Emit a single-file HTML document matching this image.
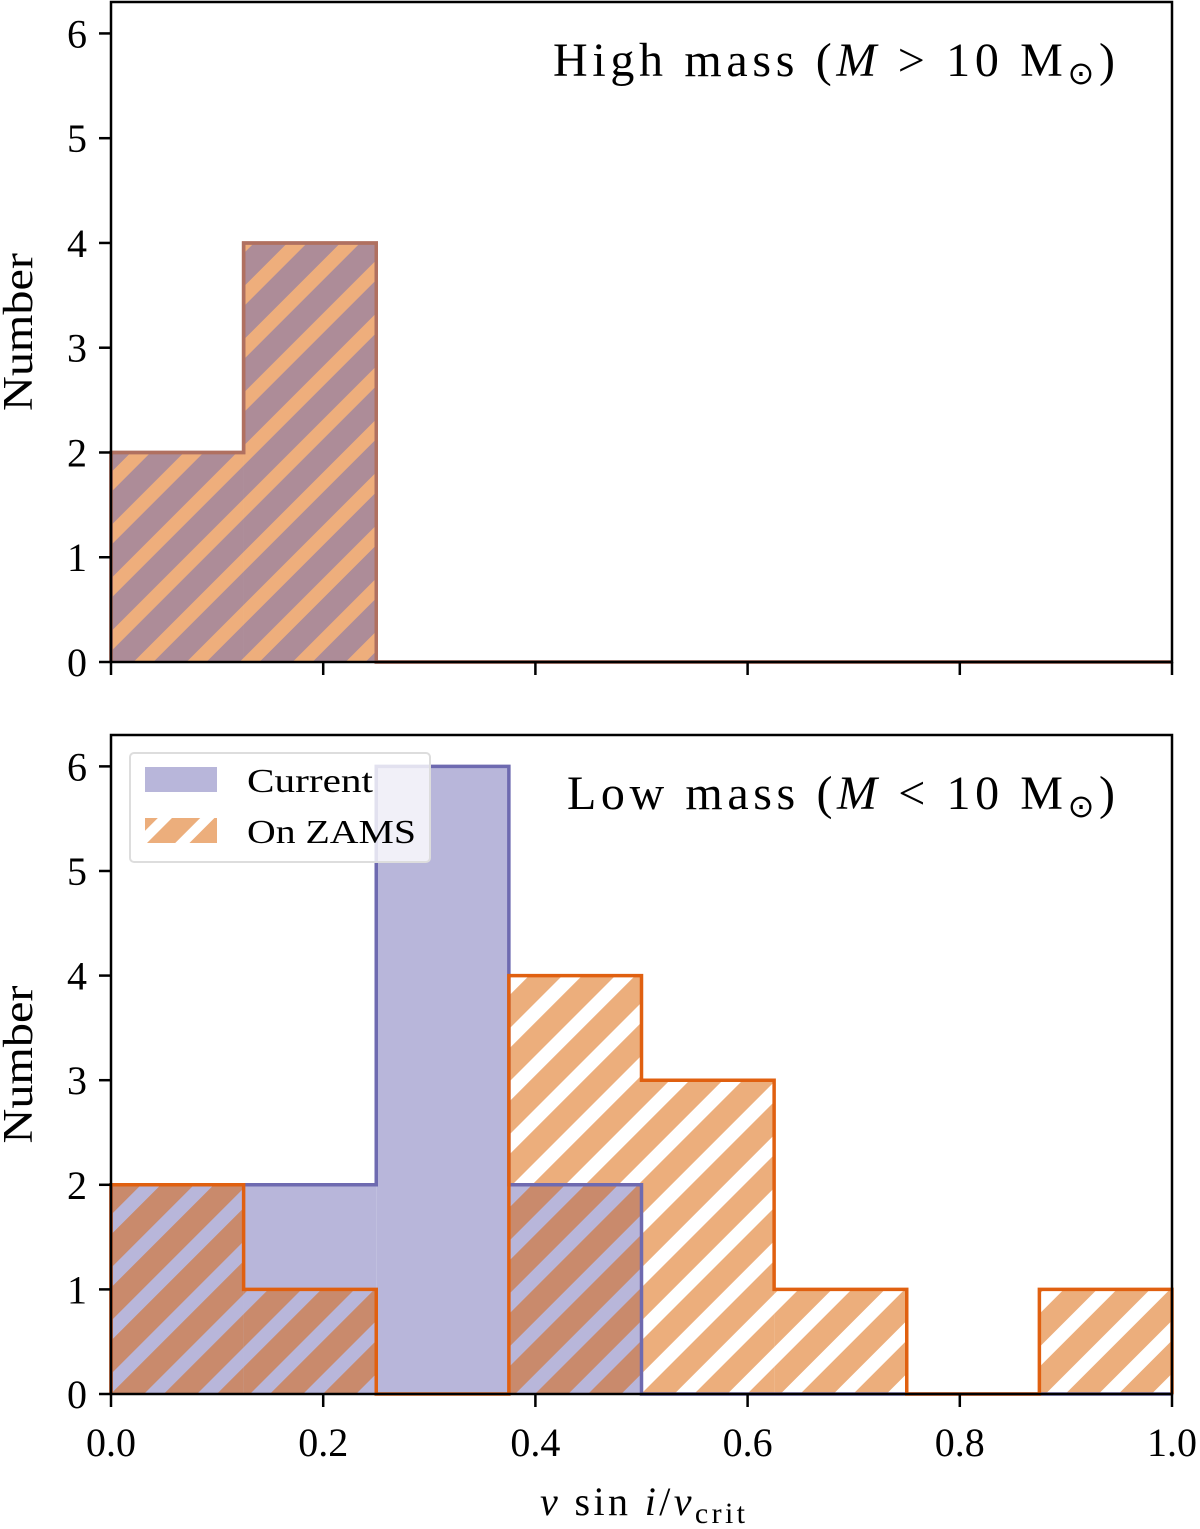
<!DOCTYPE html>
<html><head><meta charset="utf-8"><style>body{margin:0;background:#fff}svg{display:block}text{font-family:"Liberation Serif",serif;fill:#000}</style></head>
<body>
<svg width="1200" height="1529" xmlns="http://www.w3.org/2000/svg">
<defs>
<pattern id="hTop" patternUnits="userSpaceOnUse" width="37.5" height="60" patternTransform="rotate(45)"><rect width="37.5" height="60" fill="#ad8c98"/><rect width="14" height="60" fill="#eeae7c"/></pattern>
<pattern id="hOnBlue" patternUnits="userSpaceOnUse" width="37.5" height="60" patternTransform="rotate(45)"><rect width="37.5" height="60" fill="#c98a6c"/><rect width="14" height="60" fill="#b8b6da"/></pattern>
<pattern id="hOnWhite" patternUnits="userSpaceOnUse" width="37.5" height="60" patternTransform="rotate(45)"><rect width="37.5" height="60" fill="#ecae7c"/><rect width="14" height="60" fill="#ffffff"/></pattern>
<pattern id="hLeg" patternUnits="userSpaceOnUse" width="30" height="60" patternTransform="rotate(45)"><rect width="30" height="60" fill="#ecae7c"/><rect width="10" height="60" fill="#fff"/></pattern>
</defs>
<g id="g"></g>
</svg>
<script>
const binEdges=[0,0.125,0.25,0.375,0.5,0.625,0.75,0.875,1.0];
const highCurrent=[2,4,0,0,0,0,0,0];
const highZams=[2,4,0,0,0,0,0,0];
const lowCurrent=[2,2,6,2,0,0,0,0];
const lowZams=[2,1,0,4,3,1,0,1];
const xTicks=[0,0.2,0.4,0.6,0.8,1.0];
const xTickLabels=["0.0","0.2","0.4","0.6","0.8","1.0"];
const yTicks=[0,1,2,3,4,5,6];
const NS="http://www.w3.org/2000/svg";
const g=document.getElementById('g');
function el(t,a,p){const e=document.createElementNS(NS,t);for(const k in a)e.setAttribute(k,a[k]);(p||g).appendChild(e);return e;}
const X0=111,X1=1172;
const sx=v=>X0+(X1-X0)*v;
function panel(top,bot,cur,zams,name,title,titleLen,showX){
  const y0=bot,ppu=(bot-top)/6.3;
  const sy=v=>y0-v*ppu;
  const pg=el('g',{});
  
  
  function step(vals){let d=`M${sx(binEdges[0])},${sy(0)}`;vals.forEach((v,i)=>{d+=`L${sx(binEdges[i])},${sy(v)}L${sx(binEdges[i+1])},${sy(v)}`;});d+=`L${sx(binEdges[vals.length])},${sy(0)}`;return d;}
  cur.forEach((v,i)=>{if(v<=0)return;const r=el('rect',{x:sx(binEdges[i]),y:sy(v),width:sx(binEdges[i+1])-sx(binEdges[i]),height:v*ppu,fill:name==='high'?'url(#hTop)':'#b8b6da'},pg);
    
    });
  zams.forEach((v,i)=>{if(v<=0)return;const f=name==='high'?'url(#hTop)':(v<=cur[i]?'url(#hOnBlue)':null);
    if(f){const r=el('rect',{x:sx(binEdges[i]),y:sy(v),width:sx(binEdges[i+1])-sx(binEdges[i]),height:v*ppu,fill:f},pg);
      
      }
    else{const c=Math.min(cur[i],v);
      const r=el('rect',{x:sx(binEdges[i]),y:sy(v),width:sx(binEdges[i+1])-sx(binEdges[i]),height:(v-c)*ppu,fill:'url(#hOnWhite)'},pg);
      
      
      if(c>0){const r2=el('rect',{x:sx(binEdges[i]),y:sy(c),width:sx(binEdges[i+1])-sx(binEdges[i]),height:c*ppu,fill:'url(#hOnBlue)'},pg);
      
      }}});
  const s1=el('path',{d:step(cur),fill:'none',stroke:name==='high'?'#b07060':'#6e6ab0','stroke-width':3.5},pg);
  
  
  const s2=el('path',{d:step(zams),fill:'none',stroke:name==='high'?'#b07060':'#e06010','stroke-width':3.5},pg);
  
  
  const fr=el('rect',{x:X0,y:top,width:X1-X0,height:bot-top,fill:'none',stroke:'#000','stroke-width':2.5},pg);
  
  
  yTicks.forEach(t=>{el('line',{x1:X0-12,x2:X0,y1:sy(t),y2:sy(t),stroke:'#000','stroke-width':2.5},pg);
    const tx=el('text',{x:X0-24,y:sy(t)+14,'font-size':40,'text-anchor':'end'},pg);tx.textContent=t;
    
    });
  xTicks.forEach((t,i)=>{el('line',{x1:sx(t),x2:sx(t),y1:bot,y2:bot+13,stroke:'#000','stroke-width':2.5},pg);
    if(showX){const tx=el('text',{x:sx(t),y:bot+62,'font-size':40,'text-anchor':'middle'},pg);tx.textContent=xTickLabels[i];
    
    }});
  const yl=el('text',{x:0,y:0,'font-size':42,'text-anchor':'middle',textLength:158,lengthAdjust:'spacingAndGlyphs',transform:`translate(32,${(top+bot)/2}) rotate(-90)`},pg);yl.textContent='Number';
  
  
  const tt=el('text',{x:1115-titleLen,y:top+74,'font-size':48,textLength:titleLen,lengthAdjust:'spacing'},pg);tt.innerHTML=title;
  
  
}
panel(2,662,highCurrent,highZams,'high','High mass (<tspan font-style="italic">M</tspan> &gt; 10 M<tspan font-size="32" dy="8">⊙</tspan><tspan dy="-8">)</tspan>',562,false);
panel(735,1394,lowCurrent,lowZams,'low','Low mass (<tspan font-style="italic">M</tspan> &lt; 10 M<tspan font-size="32" dy="8">⊙</tspan><tspan dy="-8">)</tspan>',548,true);
const xl=el('text',{x:540,y:1515,'font-size':40,textLength:205,lengthAdjust:'spacing'});
xl.innerHTML='<tspan font-style="italic">v</tspan> sin <tspan font-style="italic">i</tspan>/<tspan font-style="italic">v</tspan><tspan font-size="30" dy="8">crit</tspan>';


const lg=el('g',{});


el('rect',{x:130,y:753,width:300,height:109,rx:4,fill:'#fff','fill-opacity':0.8,stroke:'#ddd','stroke-width':2},lg);
el('rect',{x:145,y:767,width:72,height:25,fill:'#b8b6da'},lg);
el('rect',{x:145,y:818,width:72,height:25,fill:'url(#hLeg)'},lg);
const l1=el('text',{x:247,y:792,'font-size':34,textLength:126,lengthAdjust:'spacingAndGlyphs'},lg);l1.textContent='Current';


const l2=el('text',{x:247,y:843,'font-size':34,textLength:169,lengthAdjust:'spacingAndGlyphs'},lg);l2.textContent='On ZAMS';


</script>
</body></html>
